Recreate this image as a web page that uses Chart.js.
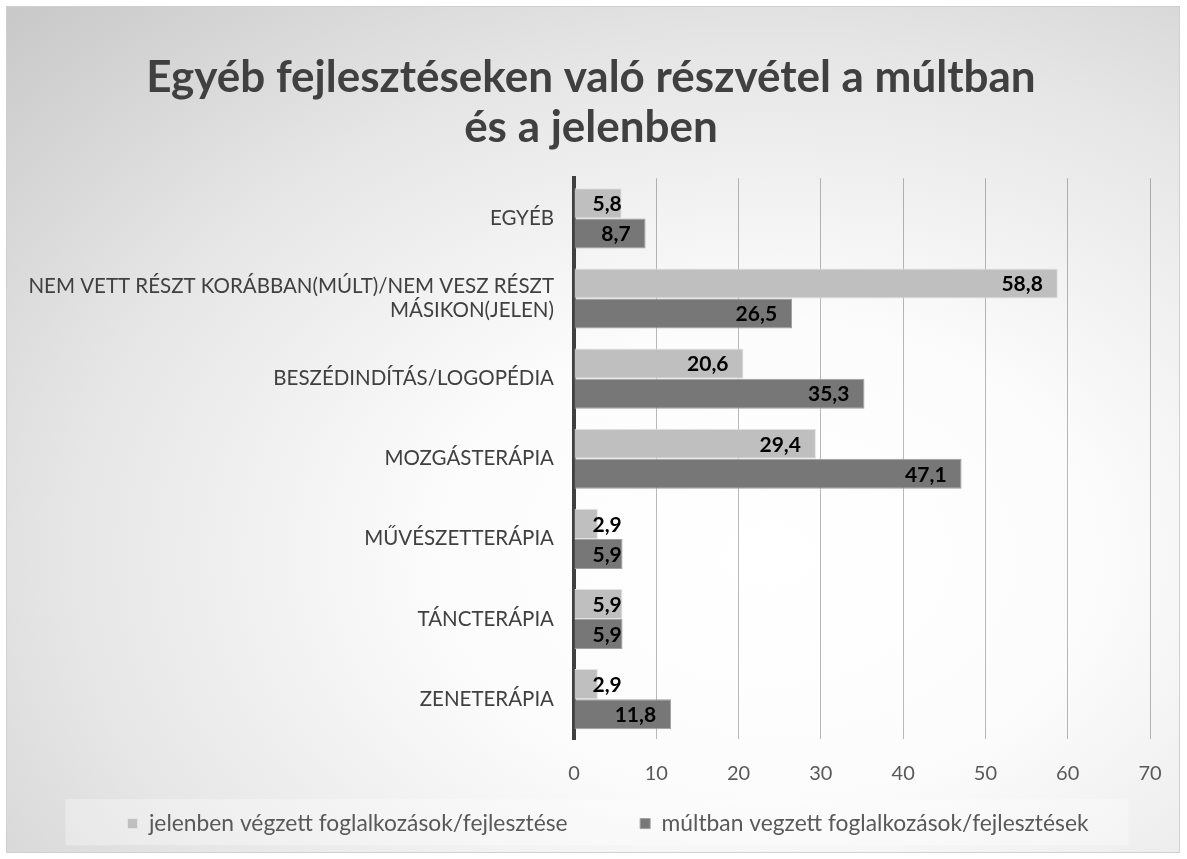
<!DOCTYPE html>
<html lang="hu">
<head>
<meta charset="UTF-8">
<title>Egyéb fejlesztések</title>
<script src="https://cdn.jsdelivr.net/npm/chart.js"></script>
<style>
    body { margin: 0; background: #fff; }
    .frame {
        position: absolute; left: 6px; top: 6px; width: 1172px; height: 845px;
        border: 1px solid #d0d0d0;
        background: radial-gradient(ellipse at 65% 65%, #ffffff 0%, #fcfcfc 30%, #e6e6e6 65%, #c8c8c8 100%);
    }
    .wrap { position: absolute; left: 0; top: 0; width: 1187px; height: 859px; }
</style>
</head>
<body>
<div class="frame"></div>
<div class="wrap"><canvas id="chart" width="1187" height="859"></canvas></div>
<script>
const categories = [
    'EGYÉB',
    ['NEM VETT RÉSZT KORÁBBAN(MÚLT)/NEM VESZ RÉSZT', 'MÁSIKON(JELEN)'],
    'BESZÉDINDÍTÁS/LOGOPÉDIA',
    'MOZGÁSTERÁPIA',
    'MŰVÉSZETTERÁPIA',
    'TÁNCTERÁPIA',
    'ZENETERÁPIA'
];
const jelenben = [5.8, 58.8, 20.6, 29.4, 2.9, 5.9, 2.9];
const multban = [8.7, 26.5, 35.3, 47.1, 5.9, 5.9, 11.8];
const xTicks = [0, 10, 20, 30, 40, 50, 60, 70];

const fontFam = 'Lato, "Open Sans", sans-serif';

// value labels, Excel style "inside end"
const valueLabels = {
    id: 'valueLabels',
    afterDraw(chart) {
        const ctx = chart.ctx;
        ctx.save();
        ctx.font = 'bold 21px ' + fontFam;
        ctx.fillStyle = '#000';
        ctx.textBaseline = 'middle';
        ctx.textAlign = 'right';
        chart.data.datasets.forEach((ds, i) => {
            chart.getDatasetMeta(i).data.forEach((bar, j) => {
                const txt = ds.data[j].toFixed(1).replace('.', ',');
                const w = ctx.measureText(txt).width;
                const right = Math.max(bar.x - 15, bar.base + 18 + w);
                ctx.fillText(txt, right, bar.y + 1);
            });
        });
        ctx.restore();
    }
};

// legend sits a bit right of centre, on a light box
const legendShift = 28;
const legendBox = {
    id: 'legendBox',
    afterLayout(chart) {
        const lg = chart.legend;
        if (!lg) return;
        lg.left += legendShift;
        lg.right += legendShift;
        (lg.legendHitBoxes || []).forEach(b => { b.left += legendShift; });
    },
    beforeDraw(chart) {
        const boxes = chart.legend && chart.legend.legendHitBoxes;
        if (!boxes || !boxes.length) return;
        const first = boxes[0], last = boxes[boxes.length - 1];
        const ctx = chart.ctx;
        ctx.save();
        ctx.fillStyle = 'rgba(255,255,255,0.32)';
        const x0 = first.left - 62, x1 = last.left + last.width + 40;
        ctx.fillRect(x0, first.top - 13, x1 - x0, 46);
        ctx.restore();
    }
};

new Chart(document.getElementById('chart'), {
    type: 'bar',
    data: {
        labels: categories,
        datasets: [{
            label: 'jelenben végzett foglalkozások/fejlesztése',
            data: jelenben,
            backgroundColor: '#bfbfbf',
            borderColor: '#e4e4e4',
            borderWidth: 1
        }, {
            label: 'múltban vegzett foglalkozások/fejlesztések',
            data: multban,
            backgroundColor: '#777777',
            borderColor: '#a0a0a0',
            borderWidth: 1
        }]
    },
    options: {
        indexAxis: 'y',
        responsive: false,
        animation: false,
        categoryPercentage: 0.75,
        barPercentage: 1,
        layout: { padding: { left: 10, right: 37, top: 0, bottom: 14 } },
        scales: {
            x: {
                min: 0, max: 70,
                z: 1,
                afterBuildTicks: s => { s.ticks = xTicks.map(v => ({ value: v })); },
                afterFit: s => { s.height = 53; },
                grid: {
                    color: c => c.tick && c.tick.value === 0 ? 'rgba(0,0,0,0)' : 'rgba(0,0,0,0.27)',
                    lineWidth: 1, drawTicks: false
                },
                border: { display: false },
                ticks: { color: '#595959', font: { family: fontFam, size: 20 }, padding: 22 }
            },
            y: {
                afterFit: s => { s.width = 564; },
                grid: { display: false },
                border: { color: '#404040', width: 4 },
                ticks: { color: '#404040', font: { family: fontFam, size: 20.5 }, padding: 12 }
            }
        },
        plugins: {
            title: {
                display: true,
                // leading en space nudges the centred title slightly right
                text: ['\u2002Egyéb fejlesztéseken való részvétel a múltban', '\u2002és a jelenben'],
                color: '#404040',
                font: { family: fontFam, size: 44, weight: 'bold', lineHeight: 1.14 },
                padding: { top: 53, bottom: 25 }
            },
            legend: {
                position: 'bottom',
                labels: {
                    color: '#595959',
                    font: { family: fontFam, size: 22.8 },
                    boxWidth: 10, boxHeight: 10,
                    padding: 20,
                    generateLabels: chart => chart.data.datasets.map((ds, i) => ({
                        text: i === 0 ? ds.label + '         ' : ds.label,
                        fillStyle: ds.backgroundColor,
                        strokeStyle: ds.borderColor,
                        lineWidth: 1,
                        fontColor: '#595959',
                        datasetIndex: i
                    }))
                }
            },
            tooltip: { enabled: false }
        }
    },
    plugins: [valueLabels, legendBox]
});
</script>
</body>
</html>
